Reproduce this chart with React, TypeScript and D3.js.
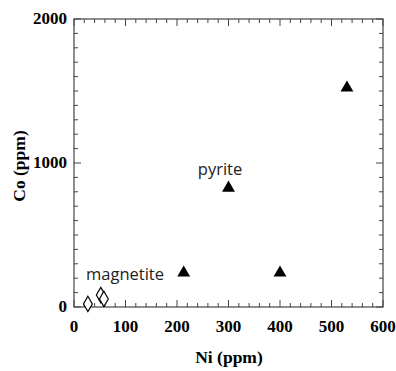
import React from "react";
import * as d3 from "d3";

const pyriteNi = [213, 300, 400, 530];
const pyriteCo = [230, 820, 230, 1515];
const magnetiteNi = [27, 52, 58];
const magnetiteCo = [21, 83, 56];
const xTicks = [0, 100, 200, 300, 400, 500, 600];
const yTicks = [0, 1000, 2000];
const labels = [
  { text: "pyrite", x: 220, y: 175 },
  { text: "magnetite", x: 125, y: 280 },
];

const W = 396, H = 371;
const L = 74, R = 383, T = 19, B = 307;

export default function App() {
  const x = d3.scaleLinear().domain([0, 600]).range([L, R]);
  const y = d3.scaleLinear().domain([0, 2000]).range([B, T]);
  const xMinor = d3.range(0, 601, 20);
  const yMinor = d3.range(0, 2001, 100);
  const stroke = "#444";
  const tri = d3.symbol().type(d3.symbolTriangle).size(72)();
  const dia = d3.symbol().type(d3.symbolDiamond).size(68)();
  const tickFont = { fontFamily: "'Liberation Serif', serif", fontWeight: "bold" as const, fontSize: 17 };
  return (
    <svg width={W} height={H} style={{ position: "absolute", left: 0, top: 0 }}>
      <rect x={0} y={0} width={W} height={H} fill="white" />
      <rect x={L} y={T} width={R - L} height={B - T} fill="none" stroke={stroke} strokeWidth={1.2} />
      {xMinor.map((v) => {
        const len = v % 100 === 0 ? 7 : 4;
        return (
          <g key={"x" + v}>
            <line x1={x(v)} x2={x(v)} y1={B} y2={B - len} stroke={stroke} />
            <line x1={x(v)} x2={x(v)} y1={T} y2={T + len} stroke={stroke} />
          </g>
        );
      })}
      {yMinor.map((v) => {
        const len = v % 1000 === 0 ? 7 : 4;
        return (
          <g key={"y" + v}>
            <line x1={L} x2={L + len} y1={y(v)} y2={y(v)} stroke={stroke} />
            <line x1={R} x2={R - len} y1={y(v)} y2={y(v)} stroke={stroke} />
          </g>
        );
      })}
      {xTicks.map((v) => (
        <text key={"xl" + v} x={x(v)} y={332} textAnchor="middle" {...tickFont}>
          {v}
        </text>
      ))}
      {yTicks.map((v) => (
        <text key={"yl" + v} x={67} y={y(v) + 5} textAnchor="end" {...tickFont}>
          {v}
        </text>
      ))}
      <text x={229} y={363} textAnchor="middle" {...tickFont} fontSize={17.5}>
        Ni (ppm)
      </text>
      <text transform={`translate(25,166) rotate(-90)`} textAnchor="middle" {...tickFont} fontSize={17.5}>
        Co (ppm)
      </text>
      {pyriteNi.map((v, i) => (
        <path key={"p" + i} d={tri!} transform={`translate(${x(v)},${y(pyriteCo[i]) - 1})`} fill="black" />
      ))}
      {magnetiteNi.map((v, i) => (
        <path key={"m" + i} d={dia!} transform={`translate(${x(v)},${y(magnetiteCo[i])})`} fill="white" stroke="black" strokeWidth={1.2} />
      ))}
      {labels.map((l) => (
        <text key={l.text} x={l.x} y={l.y} textAnchor="middle" fontFamily="'Open Sans', sans-serif" fontSize={16.5} fill="#222">
          {l.text}
        </text>
      ))}
    </svg>
  );
}
